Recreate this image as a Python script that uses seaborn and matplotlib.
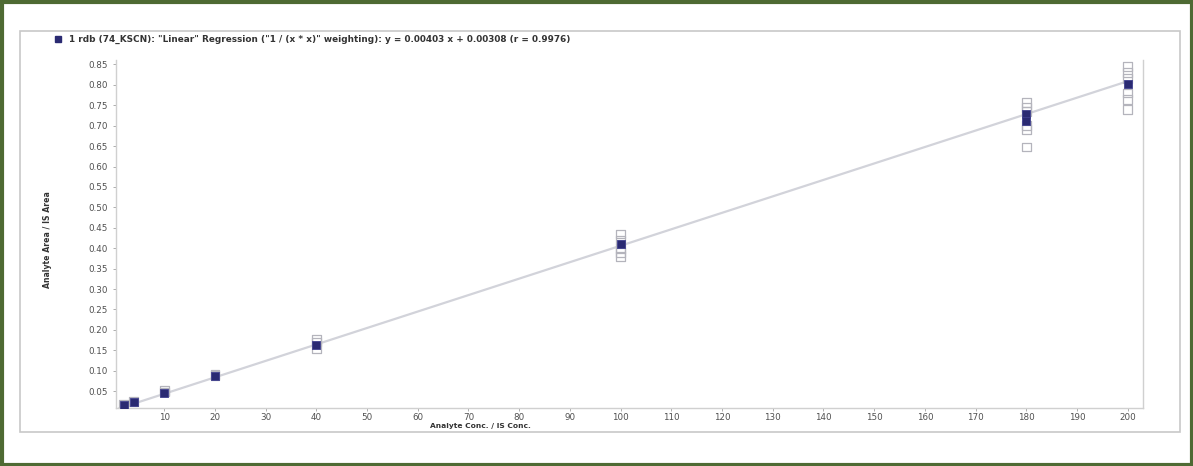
import matplotlib
matplotlib.use("Agg")
import matplotlib.pyplot as plt
from matplotlib.patches import Rectangle
from matplotlib.lines import Line2D
import numpy as np
import pandas as pd
import seaborn as sns

# Calibration levels: mean response (filled) and individual replicates (hollow)
mean_conc = [2, 4, 10, 20, 40, 100, 180, 180, 200]
mean_ratio = [0.016, 0.023, 0.046, 0.087, 0.164, 0.410, 0.728, 0.712, 0.802]

rep_conc = [2, 4, 10, 10, 20, 20, 40, 40, 40,
            100, 100, 100, 100, 100,
            180, 180, 180, 180, 180, 180,
            200, 200, 200, 200, 200, 200]
rep_ratio = [0.017, 0.024, 0.051, 0.048, 0.091, 0.089, 0.177, 0.170, 0.155,
             0.435, 0.420, 0.400, 0.390, 0.380,
             0.757, 0.745, 0.735, 0.700, 0.690, 0.648,
             0.845, 0.830, 0.815, 0.780, 0.765, 0.740]

# Fitted calibration curve
slope = 0.00403
intercept = 0.00308
r_value = 0.9976
fit_range = [1, 200]

x_ticks = list(range(10, 201, 10))
y_ticks = [round(v, 2) for v in np.arange(0.05, 0.851, 0.05)]

title_text = ('1 rdb (74_KSCN): "Linear" Regression ("1 / (x * x)" weighting): '
              f'y = {slope:.5f} x + {intercept:.5f} (r = {r_value:.4f})')

sns.set_theme(style="white")
plt.rcParams['font.family'] = ['DejaVu Sans']

W, H = 1193, 466
fig = plt.figure(figsize=(W / 100, H / 100), dpi=100)
fig.patch.set_facecolor("white")

def fx(px):
    return px / W

def fy(py):
    return 1 - py / H

# outer frame and inner plot panel
fig.add_artist(Rectangle((fx(1.5), fy(464.5)), fx(W - 3), (H - 3) / H,
                         transform=fig.transFigure, fill=False,
                         edgecolor="#4e6a33", linewidth=3))
fig.add_artist(Rectangle((fx(20), fy(432)), fx(1160), (432 - 31) / H,
                         transform=fig.transFigure, fill=False,
                         edgecolor="#c8c8c8", linewidth=1.2))

ax = fig.add_axes([fx(116), fy(408), fx(1143 - 116), (408 - 60) / H])

line_df = pd.DataFrame({"conc": fit_range,
                        "ratio": [slope * x + intercept for x in fit_range]})
sns.lineplot(data=line_df, x="conc", y="ratio", ax=ax, color="#d2d3da",
             linewidth=1.6, zorder=1)

rep_df = pd.DataFrame({"conc": rep_conc, "ratio": rep_ratio})
sns.scatterplot(data=rep_df, x="conc", y="ratio", ax=ax, marker="s", s=40,
                facecolor="none", edgecolor="#b4b4bc", linewidth=0.9, zorder=2)

mean_df = pd.DataFrame({"conc": mean_conc, "ratio": mean_ratio})
sns.scatterplot(data=mean_df, x="conc", y="ratio", ax=ax, marker="s", s=34,
                color="#2a2a72", edgecolor="#40408e", linewidth=0.6, zorder=3)

ax.set_xlim(0.5, 203)
ax.set_ylim(0.0086, 0.861)
ax.set_xticks(x_ticks)
ax.set_yticks(y_ticks)
ax.set_xticklabels([str(t) for t in x_ticks])
ax.set_yticklabels([f"{t:.2f}" for t in y_ticks])
ax.tick_params(axis="both", labelsize=6.3, colors="#a0a0a0", labelcolor="#505050",
               length=2, width=0.6, direction="out")
ax.tick_params(axis="x", bottom=True, pad=1.5)
ax.tick_params(axis="y", left=True, pad=4)

for side in ["left", "bottom", "right"]:
    ax.spines[side].set_color("#d0d0d0")
    ax.spines[side].set_linewidth(1.0)
ax.spines["top"].set_visible(False)

ax.set_xlabel("Analyte Conc. / IS Conc.", fontsize=5.4, color="#333333",
              fontweight="bold", labelpad=0)
ax.xaxis.set_label_coords((480 - 116) / (1143 - 116), -0.042)
ax.set_ylabel("Analyte Area / IS Area", fontsize=5.6, color="#333333",
              fontweight="bold")
ax.yaxis.set_label_coords(-(116 - 52) / (1143 - 116), (408 - 240) / (408 - 60))

# legend entry with the regression summary
fig.add_artist(Line2D([fx(58)], [fy(39)], marker="s", markersize=5,
                      color="#2a2a72", transform=fig.transFigure))
fig.text(fx(69), fy(39), title_text, fontsize=6.4, color="#333333",
         fontweight="bold", va="center", ha="left")

fig.savefig("out.png", dpi=100)
